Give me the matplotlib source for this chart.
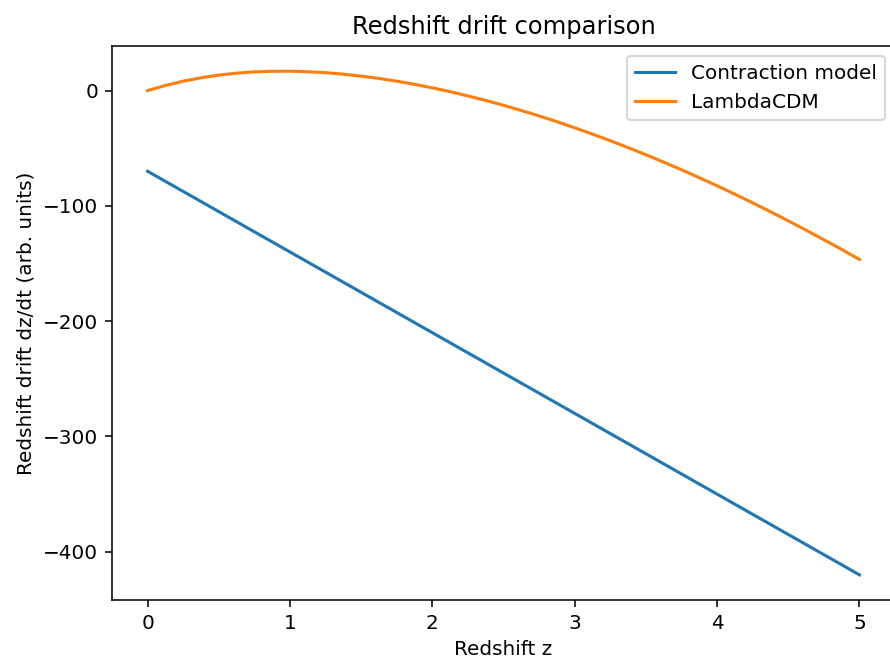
import matplotlib
matplotlib.use("Agg")
import matplotlib.pyplot as plt

plt.rcParams['font.size'] = 10.4
plt.rcParams['lines.linewidth'] = 1.6

# redshift grid and values
z_contraction = [0, 1, 2, 3, 4, 5]
drift_contraction = [-70, -140, -210, -280, -350, -420]

z_lcdm = [0, 0.125, 0.25, 0.375, 0.5, 0.625, 0.75, 0.875, 1, 1.125, 1.25,
          1.375, 1.5, 1.625, 1.75, 1.875, 2, 2.125, 2.25, 2.375, 2.5,
          2.625, 2.75, 2.875, 3, 3.125, 3.25, 3.375, 3.5, 3.625, 3.75,
          3.875, 4, 4.125, 4.25, 4.375, 4.5, 4.625, 4.75, 4.875, 5]
drift_lcdm = [0, 4.4, 8.1, 11.1, 13.4, 15.1, 16.2, 16.7, 16.8, 16.3, 15.5,
              14.2, 12.5, 10.5, 8.1, 5.4, 2.3, -1.0, -4.7, -8.6, -12.8,
              -17.3, -22.0, -27.0, -32.3, -37.8, -43.5, -49.5, -55.7, -62.1, -68.7,
              -75.6, -82.6, -89.9, -97.4, -105.1, -113.0, -121.1, -129.4, -137.8, -146.5]

fig = plt.figure(figsize=(890 / 139, 668 / 139), dpi=139)
plt.plot(z_contraction, drift_contraction, label="Contraction model")
plt.plot(z_lcdm, drift_lcdm, label="LambdaCDM")
plt.xlabel("Redshift z")
plt.ylabel("Redshift drift dz/dt (arb. units)")
plt.title("Redshift drift comparison")
plt.legend()
plt.subplots_adjust(left=112 / 890, right=895 / 890, top=1 - 46 / 668, bottom=1 - 600 / 668)
plt.savefig("out.png", dpi=139)
